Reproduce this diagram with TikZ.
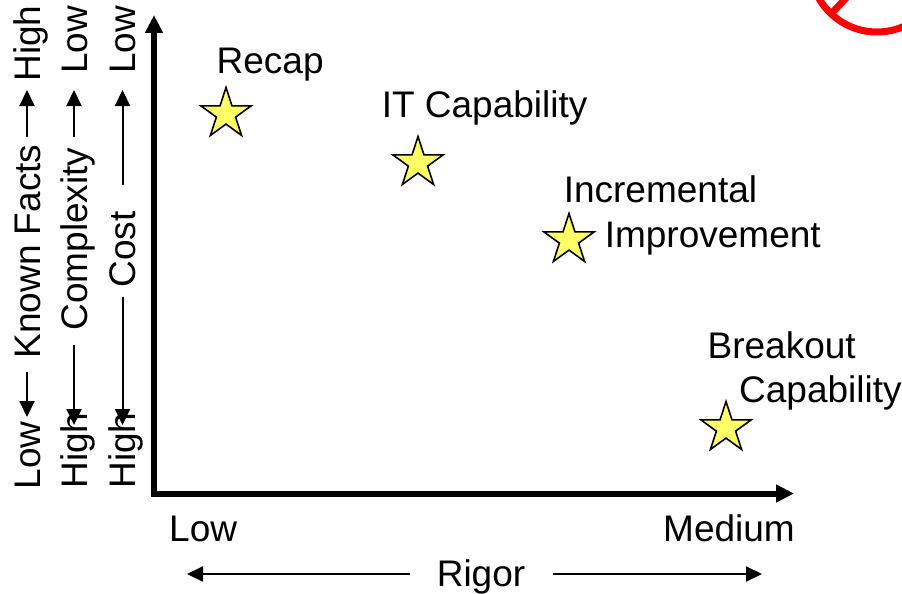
\documentclass[tikz,border=0pt]{standalone}
\usepackage{fontspec}
\setmainfont{Liberation Sans}
\usetikzlibrary{shapes.geometric,arrows.meta}
\definecolor{staryellow}{RGB}{255,255,102}
\begin{document}
\begin{tikzpicture}[x=1pt,y=-1pt,
  lbl/.style={font=\fontsize{37}{41}\selectfont, inner sep=0pt, anchor=base west},
  vlbl/.style={font=\fontsize{37}{41}\selectfont, inner sep=0pt, rotate=90, anchor=base},
  thinarrow/.style={line width=2pt, -{Triangle[length=16pt,width=15pt]}},
  starmark/.style={star, star points=5, star point ratio=2.618, minimum size=53pt, inner sep=0pt, draw=black, line width=1.6pt, fill=staryellow},
  axisline/.style={line width=6pt, {Triangle[length=18pt,width=17pt]}-{Triangle[length=18pt,width=17pt]}}]
\useasboundingbox (0,0) rectangle (902,594);
\clip (0,0) rectangle (902,594);

% red "no" sign (partly visible)
\draw[red, line width=7pt] (877,-35) circle[radius=67];
\draw[red, line width=7pt] (830,15) -- (924,-84.6);

% axes
\coordinate (ytop) at (154,15);
\coordinate (origin) at (154,493.5);
\coordinate (xend) at (794,493.5);
\draw[axisline] (ytop) -- (origin) -- (xend);

% stars
\node[starmark] (srecap) at (226,114) {};
\node[starmark] (sit) at (418,163) {};
\node[starmark] (sincr) at (569,240) {};
\node[starmark] (sbrk) at (726,428) {};

% star labels
\node[lbl] (recap) at (216.5,74) {Recap};
\node[lbl] (itcap) at (381.6,117.3) {IT Capability};
\node[lbl] (incr) at (563.6,202) {Incremental};
\node[lbl] (impr) at (604.6,247) {Improvement};
\node[lbl] (brk) at (707.4,358) {Breakout};
\node[lbl] (brkcap) at (739,402) {Capability};

% x axis labels
\node[lbl] (xlow) at (169,541.7) {Low};
\node[lbl, anchor=base east] (xmed) at (795,541.7) {Medium};
\node[lbl, anchor=base] (rigor) at (481,586) {Rigor};
\coordinate (rigorLs) at (410,574);
\coordinate (rigorLe) at (187,574);
\coordinate (rigorRs) at (553,574);
\coordinate (rigorRe) at (762,574);
\draw[thinarrow] (rigorLs) -- (rigorLe);
\draw[thinarrow] (rigorRs) -- (rigorRe);

% column 1: Known Facts
\node[vlbl] (c1low) at (40,455.5) {Low};
\node[vlbl] (c1mid) at (40,251.5) {Known Facts};
\node[vlbl] (c1high) at (40,43.5) {High};
\coordinate (c1us) at (27,137);
\coordinate (c1ue) at (27,90);
\coordinate (c1ds) at (27,372);
\coordinate (c1de) at (27,417);
\draw[thinarrow] (c1us) -- (c1ue);
\draw[thinarrow] (c1ds) -- (c1de);

% column 2: Complexity
\node[vlbl] (c2low) at (87,40) {Low};
\node[vlbl] (c2mid) at (87,239) {Complexity};
\node[vlbl] (c2high) at (87,450.5) {High};
\coordinate (c2us) at (74,137);
\coordinate (c2ue) at (74,90);
\coordinate (c2ds) at (74,345);
\coordinate (c2de) at (74,425);
\draw[thinarrow] (c2us) -- (c2ue);
\draw[thinarrow] (c2ds) -- (c2de);

% column 3: Cost
\node[vlbl] (c3low) at (135,40) {Low};
\node[vlbl] (c3mid) at (135,249.5) {Cost};
\node[vlbl] (c3high) at (135,450.5) {High};
\coordinate (c3us) at (122.5,185);
\coordinate (c3ue) at (122.5,90);
\coordinate (c3ds) at (122.5,297);
\coordinate (c3de) at (122.5,425);
\draw[thinarrow] (c3us) -- (c3ue);
\draw[thinarrow] (c3ds) -- (c3de);
\end{tikzpicture}
\end{document}
